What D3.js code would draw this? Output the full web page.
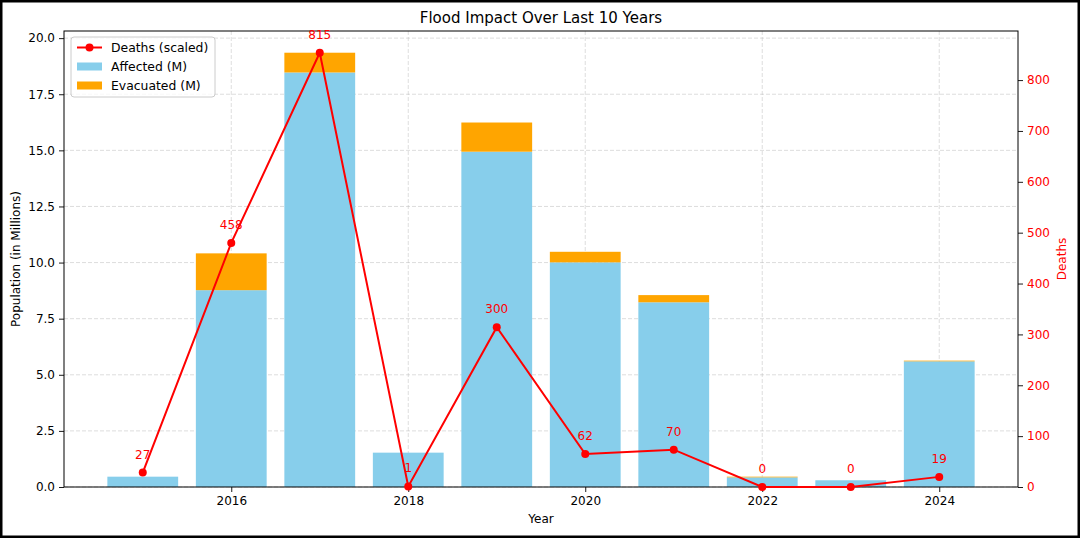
<!DOCTYPE html>
<html>
<head>
<meta charset="utf-8">
<script src="https://cdn.jsdelivr.net/npm/d3@7"></script>
<style>
  html, body { margin: 0; padding: 0; background: #fff; }
  svg { display: block; font-family: "DejaVu Sans", sans-serif; }
</style>
</head>
<body>
<svg id="chart" width="1080" height="538"></svg>
<script>
const years = [2015, 2016, 2017, 2018, 2019, 2020, 2021, 2022, 2023, 2024];
const affected = [0.46, 8.77, 18.47, 1.53, 14.94, 10.01, 8.23, 0.43, 0.30, 5.60];
const evacuated = [0.0, 1.64, 0.88, 0.0, 1.30, 0.47, 0.32, 0.03, 0.0, 0.03];
const deaths = [27, 458, 815, 1, 300, 62, 70, 0, 0, 19];
const leftTicks = [0, 2.5, 5, 7.5, 10, 12.5, 15, 17.5, 20];
const rightTicks = [0, 100, 200, 300, 400, 500, 600, 700, 800];
const xTicks = [2016, 2018, 2020, 2022, 2024];

const W = 1080, H = 538;
const m = { left: 64, right: 1018, top: 31, bottom: 487 };
const svg = d3.select("#chart");

const totals = years.map((y, i) => affected[i] + evacuated[i]);
const maxTotal = d3.max(totals);
const maxDeaths = d3.max(deaths);
const scaled = deaths.map(d => d / maxDeaths * maxTotal);

const x = d3.scaleLinear().domain([2014.11, 2024.89]).range([m.left, m.right]);
const y = d3.scaleLinear().domain([0, maxTotal * 1.05]).range([m.bottom, m.top]);
const yR = d3.scaleLinear().domain([0, maxDeaths * 1.1]).range([m.bottom, m.top]);
const bw = x(2015.8) - x(2015);

// grid
const grid = svg.append("g");
grid.selectAll("line.h").data(leftTicks).join("line")
  .attr("x1", m.left).attr("x2", m.right)
  .attr("y1", d => y(d)).attr("y2", d => y(d))
  .attr("stroke", "#b0b0b0").attr("stroke-opacity", 0.55).attr("stroke-width", 0.8)
  .attr("stroke-dasharray", "4,2");
grid.selectAll("line.v").data(xTicks).join("line")
  .attr("x1", d => x(d)).attr("x2", d => x(d))
  .attr("y1", m.top).attr("y2", m.bottom)
  .attr("stroke", "#b0b0b0").attr("stroke-opacity", 0.55).attr("stroke-width", 0.8)
  .attr("stroke-dasharray", "4,2");

// bars
svg.append("g").selectAll("rect").data(years).join("rect")
  .attr("x", (d) => x(d) - bw / 2).attr("width", bw)
  .attr("y", (d, i) => y(affected[i])).attr("height", (d, i) => y(0) - y(affected[i]))
  .attr("fill", "#87CEEB");
svg.append("g").selectAll("rect").data(years).join("rect")
  .attr("x", (d) => x(d) - bw / 2).attr("width", bw)
  .attr("y", (d, i) => y(affected[i] + evacuated[i]))
  .attr("height", (d, i) => y(affected[i]) - y(affected[i] + evacuated[i]))
  .attr("fill", "#FFA500");

// axes
const axL = svg.append("g").attr("transform", `translate(${m.left},0)`)
  .call(d3.axisLeft(y).tickValues(leftTicks).tickFormat(d3.format(".1f")).tickSizeOuter(0).tickSize(5).tickPadding(4));
const axR = svg.append("g").attr("transform", `translate(${m.right},0)`)
  .call(d3.axisRight(yR).tickValues(rightTicks).tickFormat(d3.format("d")).tickSizeOuter(0).tickSize(5).tickPadding(4));
const axB = svg.append("g").attr("transform", `translate(0,${m.bottom})`)
  .call(d3.axisBottom(x).tickValues(xTicks).tickFormat(d3.format("d")).tickSizeOuter(0).tickSize(5).tickPadding(4));
[axL, axR, axB].forEach(a => {
  a.select(".domain").remove();
  a.selectAll("text").attr("font-size", 12).attr("font-family", "DejaVu Sans").attr("fill", "#000");
  a.selectAll("line").attr("stroke", "#000").attr("stroke-width", 0.9);
});
axR.selectAll("text").attr("fill", "red");
// frame
svg.append("rect").attr("x", m.left).attr("y", m.top)
  .attr("width", m.right - m.left).attr("height", m.bottom - m.top)
  .attr("fill", "none").attr("stroke", "#000").attr("stroke-width", 1);

// deaths line
const line = d3.line().x((d, i) => x(years[i])).y(d => y(d));
svg.append("path").datum(scaled).attr("d", line)
  .attr("fill", "none").attr("stroke", "red").attr("stroke-width", 2);
svg.append("g").selectAll("circle").data(scaled).join("circle")
  .attr("cx", (d, i) => x(years[i])).attr("cy", d => y(d)).attr("r", 4)
  .attr("fill", "red");
svg.append("g").selectAll("text").data(scaled).join("text")
  .attr("x", (d, i) => x(years[i])).attr("y", d => y(d) - 14)
  .attr("text-anchor", "middle").attr("font-size", 12).attr("fill", "red")
  .text((d, i) => deaths[i]);

// titles
svg.append("text").attr("x", (m.left + m.right) / 2).attr("y", 23)
  .attr("text-anchor", "middle").attr("font-size", 15).text("Flood Impact Over Last 10 Years");
svg.append("text").attr("x", (m.left + m.right) / 2).attr("y", 523)
  .attr("text-anchor", "middle").attr("font-size", 12).text("Year");
svg.append("text").attr("transform", `translate(20,${(m.top + m.bottom) / 2}) rotate(-90)`)
  .attr("text-anchor", "middle").attr("font-size", 12).text("Population (in Millions)");
svg.append("text").attr("transform", `translate(1066,${(m.top + m.bottom) / 2}) rotate(-90)`)
  .attr("text-anchor", "middle").attr("font-size", 12).attr("fill", "red").text("Deaths");

// legend
const lg = svg.append("g").attr("transform", "translate(71,37)");
lg.append("rect").attr("width", 144).attr("height", 60).attr("rx", 3)
  .attr("fill", "#fff").attr("fill-opacity", 0.8).attr("stroke", "#cccccc").attr("stroke-width", 1);
const legendItems = ["Deaths (scaled)", "Affected (M)", "Evacuated (M)"];
const legendColors = ["red", "#87CEEB", "#FFA500"];
legendItems.forEach((t, i) => {
  const cy = 10.5 + i * 19;
  if (i === 0) {
    lg.append("line").attr("x1", 6).attr("x2", 31).attr("y1", cy).attr("y2", cy)
      .attr("stroke", "red").attr("stroke-width", 2);
    lg.append("circle").attr("cx", 18.5).attr("cy", cy).attr("r", 4).attr("fill", "red");
  } else {
    lg.append("rect").attr("x", 6).attr("y", cy - 4).attr("width", 25).attr("height", 8)
      .attr("fill", legendColors[i]);
  }
  lg.append("text").attr("x", 40).attr("y", cy + 4.3).attr("font-size", 12.4).text(t);
});

// outer black border
svg.append("rect").attr("x", 1).attr("y", 1).attr("width", W - 2).attr("height", H - 2)
  .attr("fill", "none").attr("stroke", "#000").attr("stroke-width", 3);
</script>
</body>
</html>
